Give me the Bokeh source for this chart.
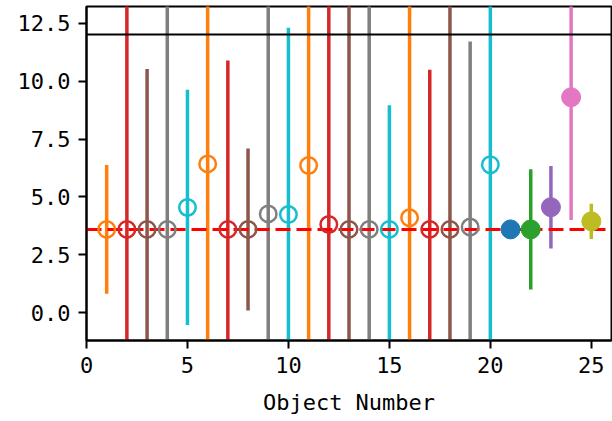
from bokeh.plotting import figure
from bokeh.models import ColumnDataSource, FixedTicker, Range1d
from bokeh.embed import file_html
from bokeh.resources import INLINE

# ---- data ----
objects = list(range(1, 26))
values = [3.6, 3.6, 3.6, 3.6, 4.55, 6.43, 3.6, 3.6, 4.27, 4.24,
          6.36, 3.81, 3.6, 3.6, 3.6, 4.1, 3.6, 3.6, 3.7, 6.39,
          3.6, 3.6, 4.56, 9.31, 3.95]
errors = [2.78, 14.0, 6.93, 14.0, 5.08, 14.0, 7.3, 3.5, 14.0, 8.07,
          14.0, 14.0, 14.0, 14.0, 5.36, 14.0, 6.9, 14.0, 8.02, 14.0,
          0.3, 2.6, 1.78, 5.3, 0.76]
colors = ["#ff7f0e", "#d62728", "#8c564b", "#7f7f7f", "#17becf",
          "#ff7f0e", "#d62728", "#8c564b", "#7f7f7f", "#17becf",
          "#ff7f0e", "#d62728", "#8c564b", "#7f7f7f", "#17becf",
          "#ff7f0e", "#d62728", "#8c564b", "#7f7f7f", "#17becf",
          "#1f77b4", "#2ca02c", "#9467bd", "#e377c2", "#bcbd22"]
filled = [False] * 20 + [True] * 5
mean_level = 3.6
upper_limit = 12.0
x_ticks = [0, 5, 10, 15, 20, 25]
y_ticks = [0.0, 2.5, 5.0, 7.5, 10.0, 12.5]
y_tick_labels = ["0.0", "2.5", "5.0", "7.5", "10.0", "12.5"]

FONT = "DejaVu Sans Mono"

p = figure(width=612, height=421, output_backend="svg", toolbar_location=None,
           x_range=Range1d(0, 26), y_range=Range1d(-1.2, 13.23),
           min_border_left=86, min_border_right=1, min_border_top=6,
           min_border_bottom=81)
p.grid.visible = False
p.outline_line_color = "black"
p.outline_line_width = 2
p.background_fill_color = "white"
p.border_fill_color = "white"

src = ColumnDataSource(dict(
    x=objects, y=values,
    y0=[v - e for v, e in zip(values, errors)],
    y1=[v + e for v, e in zip(values, errors)],
    color=colors,
))
p.segment(x0="x", x1="x", y0="y0", y1="y1", color="color", line_width=3.5,
          source=src)

p.hspan(y=[upper_limit], line_color="black", line_width=2)
p.hspan(y=[mean_level], line_color="red", line_width=3, line_dash="15 6")

open_src = ColumnDataSource(dict(
    x=[o for o, f in zip(objects, filled) if not f],
    y=[v for v, f in zip(values, filled) if not f],
    color=[c for c, f in zip(colors, filled) if not f]))
fill_src = ColumnDataSource(dict(
    x=[o for o, f in zip(objects, filled) if f],
    y=[v for v, f in zip(values, filled) if f],
    color=[c for c, f in zip(colors, filled) if f]))
p.scatter("x", "y", source=open_src, size=16.5, fill_color=None,
          line_color="color", line_width=2.5)
p.scatter("x", "y", source=fill_src, size=19, fill_color="color",
          line_color="color")

p.xaxis.ticker = FixedTicker(ticks=x_ticks)
p.yaxis.ticker = FixedTicker(ticks=y_ticks)
p.yaxis.major_label_overrides = {t: l for t, l in zip(y_ticks, y_tick_labels)}
p.xaxis.axis_label = "Object Number"
for ax in (p.xaxis[0], p.yaxis[0]):
    ax.axis_line_width = 2
    ax.axis_line_color = "black"
    ax.major_tick_line_width = 2
    ax.major_tick_out = 8
    ax.major_tick_in = 0
    ax.minor_tick_out = 0
    ax.minor_tick_in = 0
    ax.major_label_text_font = FONT
    ax.major_label_text_font_size = "22px"
    ax.major_label_text_color = "black"
    ax.major_label_standoff = 8
    ax.axis_label_text_font = FONT
    ax.axis_label_text_font_size = "22px"
    ax.axis_label_text_font_style = "normal"
    ax.axis_label_text_color = "black"
    ax.axis_label_standoff = 14

open("out.html", "w").write(file_html(p, INLINE))
